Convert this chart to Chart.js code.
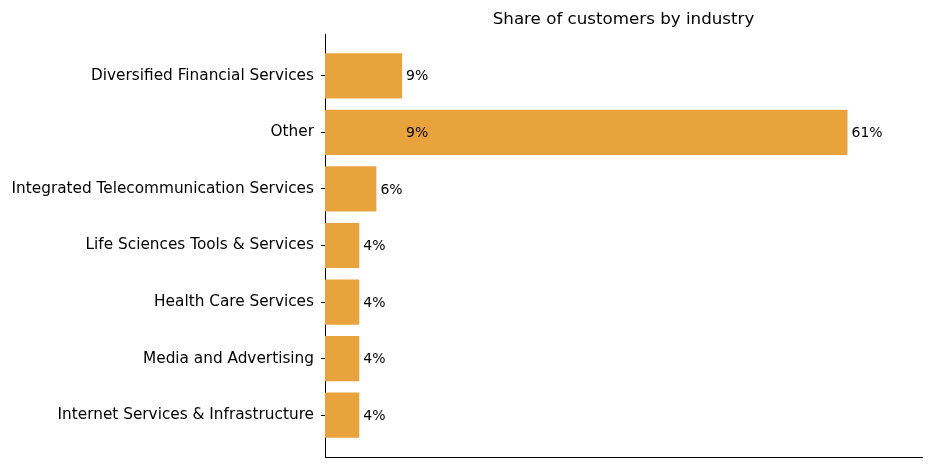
<!DOCTYPE html>
<html>
<head>
<meta charset="utf-8">
<script src="https://cdn.jsdelivr.net/npm/chart.js@4"></script>
<style>
    html, body { margin: 0; padding: 0; background: #fff; }
    #wrap { width: 932px; height: 468px; }
</style>
</head>
<body>
<div id="wrap"><canvas id="graph"></canvas></div>
<script>
const canvas = document.getElementById('graph');

const industries = [
    "Diversified Financial Services",
    "Other",
    "Integrated Telecommunication Services",
    "Life Sciences Tools & Services",
    "Health Care Services",
    "Media and Advertising",
    "Internet Services & Infrastructure"
];
const shares = [9, 61, 6, 4, 4, 4, 4];
// a stray label that sits on the "Other" bar in the original
const strayLabels = [{ row: 1, value: 9, text: "9%" }];
const chartTitle = "Share of customers by industry";

const barColor = "#e8a33d";
const FONT = "'DejaVu Sans', sans-serif";

const labelPlugin = {
    id: 'barLabels',
    afterDatasetsDraw(chart) {
        const ctx = chart.ctx;
        const x = chart.scales.x;
        const y = chart.scales.y;
        ctx.save();
        ctx.fillStyle = '#000';
        ctx.font = "14px " + FONT;
        ctx.textBaseline = 'middle';
        ctx.textAlign = 'left';
        shares.forEach((v, i) => {
            ctx.fillText(v + "%", x.getPixelForValue(v) + 4, y.getPixelForValue(i) + 1);
        });
        strayLabels.forEach(s => {
            ctx.fillText(s.text, x.getPixelForValue(s.value) + 4, y.getPixelForValue(s.row) + 1);
        });
        // title
        ctx.font = "16.7px " + FONT;
        ctx.textAlign = 'center';
        ctx.fillText(chartTitle, (chart.chartArea.left + chart.chartArea.right) / 2, 20);
        ctx.restore();
    }
};

new Chart(canvas, {
    type: 'bar',
    data: {
        datasets: [{
            data: shares.map((v, i) => ({ x: v, y: i })),
            backgroundColor: barColor,
            borderWidth: 0,
            barPercentage: 0.8,
            categoryPercentage: 1.0
        }]
    },
    options: {
        indexAxis: 'y',
        responsive: true,
        maintainAspectRatio: false,
        animation: false,
        layout: { padding: { top: 34, right: 10, left: 0, bottom: 0 } },
        plugins: {
            legend: { display: false },
            tooltip: { enabled: false },
            title: { display: false }
        },
        scales: {
            x: {
                type: 'linear',
                min: 0,
                max: 69.7,
                grid: { display: false },
                border: { display: true, color: '#000', width: 1 },
                ticks: { display: false },
                afterFit(scale) { scale.height = 11; }
            },
            y: {
                type: 'linear',
                min: -0.74,
                max: 6.74,
                reverse: true,
                offset: false,
                afterBuildTicks(scale) {
                    scale.ticks = industries.map((c, i) => ({ value: i }));
                },
                afterFit(scale) {
                    scale.width = 325;
                    scale.paddingTop = 0;
                    scale.paddingBottom = 0;
                },
                grid: {
                    display: true,
                    offset: false,
                    drawOnChartArea: false,
                    drawTicks: true,
                    tickLength: 4,
                    tickWidth: 1,
                    tickColor: '#000',
                    color: '#000'
                },
                border: { display: true, color: '#000', width: 1 },
                ticks: {
                    color: '#000',
                    padding: 7,
                    autoSkip: false,
                    font: { family: FONT, size: 15.3 },
                    callback: (value) => industries[value]
                }
            }
        }
    },
    plugins: [labelPlugin]
});
</script>
</body>
</html>
